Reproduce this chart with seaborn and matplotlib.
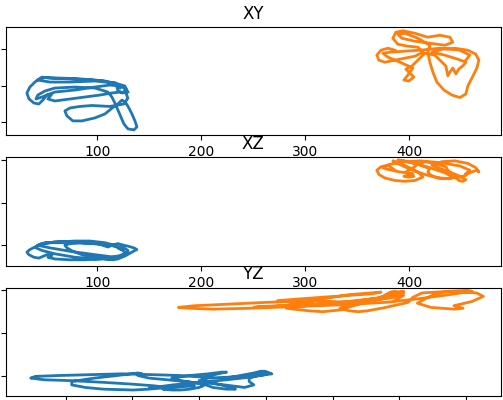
import matplotlib
matplotlib.use("Agg")
import matplotlib.pyplot as plt
from matplotlib.ticker import MultipleLocator
import seaborn as sns
import pandas as pd

# ---- trajectory 1 (blue) ----
blue_x = [121.8, 117.0, 107.4, 93.0, 78.6, 64.1, 49.7, 44.9, 40.1, 35.3, 32.4, 34.3, 39.1, 43.9, 47.8,
          51.6, 56.4, 52.6, 59.3, 73.8, 88.2, 102.6, 114.1, 121.8, 127.6, 129.5, 125.7, 112.2, 94.9,
          83.4, 73.8, 68.9, 70.9, 76.6, 85.3, 97.8, 107.4, 115.1, 119.9, 123.8, 127.6, 130.5, 133.4,
          136.3, 138.2, 135.3, 129.5, 125.7, 122.8, 119.9, 117.0, 114.1, 110.3, 97.8, 78.6, 59.3,
          49.7, 42.9, 41.1, 46.8, 59.3, 78.6, 97.8, 112.2, 121.8, 127.6, 124.7, 119.9, 118.0, 102.6,
          78.6, 54.5, 46.8, 43.0, 54.5, 73.8, 97.8, 117.0, 126.6, 129.5]
blue_y = [146.8, 152.3, 156.4, 158.4, 159.8, 160.4, 161.1, 159.8, 155.0, 148.2, 140.0, 132.1, 126.3,
          125.0, 130.4, 137.2, 138.6, 131.8, 129.1, 131.8, 134.5, 137.2, 140.0, 141.3, 140.0, 133.1,
          125.0, 121.6, 122.9, 121.6, 119.5, 115.4, 108.6, 101.8, 101.8, 105.9, 111.3, 120.2, 125.0,
          130.4, 126.3, 119.5, 111.3, 101.8, 93.6, 89.5, 90.9, 97.7, 107.2, 116.8, 126.3, 134.5,
          141.3, 146.8, 148.2, 146.8, 142.7, 137.2, 131.8, 134.5, 141.3, 144.1, 148.2, 150.9, 149.6,
          145.5, 140.0, 142.7, 153.6, 157.0, 159.1, 160.4, 161.8, 157.7, 155.0, 155.0, 156.4, 153.6,
          149.6, 141.3]
blue_z = [-4, 0, 3, 5, 5, 4, 3, 1, -2, -5, -8, -11, -14, -15, -13, -11, -12, -14, -16, -17, -17, -16,
          -14, -12, -9, -6, -3, 0, 2, 3, 2, 0, -3, -7, -11, -14, -16, -17, -16, -14, -12, -10, -8, -6,
          -5, -3, -1, 0, 1, 2, 1, 0, -2, 3, 4, 4, 2, 0, -3, -6, -10, -14, -16, -16, -14, -10, -6, -3,
          -1, 2, 3, 3, 2, 0, -3, -7, -11, -14, -12, -8]

# ---- trajectory 2 (orange) ----
orange_x = [386.3, 379.5, 372.8, 368.9, 370.9, 376.6, 386.3, 395.9, 405.5, 413.2, 408.4, 398.7, 389.1,
            384.3, 387.2, 393.9, 405.5, 417.9, 429.5, 439.1, 442.0, 434.3, 419.9, 405.5, 393.0, 389.1,
            395.9, 408.4, 419.9, 418.0, 419.9, 422.8, 426.6, 433.4, 441.1, 448.8, 454.5, 456.4, 460.3,
            465.1, 467.0, 464.1, 456.4, 443.9, 431.4, 421.8, 434.3, 446.8, 454.5, 451.6, 447.8, 444.9,
            442.0, 439.1, 437.2, 435.3, 424.7, 415.1, 408.4, 402.6, 396.8, 400.7, 404.5, 399.7, 394.9,
            398.7, 403.6, 391.1, 379.5, 374.7, 381.4, 395.9, 410.3, 429.5, 448.8, 458.4, 454.5]
orange_y = [198.6, 201.3, 198.6, 191.8, 185.0, 182.2, 185.0, 187.7, 190.4, 195.9, 202.7, 204.1, 206.8,
            214.9, 223.2, 225.2, 221.8, 216.4, 219.1, 216.4, 209.5, 205.4, 208.2, 210.9, 215.0, 220.5,
            221.8, 215.0, 205.4, 195.9, 182.2, 168.6, 155.0, 144.1, 137.2, 133.8, 138.6, 149.6, 160.4,
            174.1, 185.0, 193.2, 198.6, 201.3, 199.9, 195.9, 191.8, 186.3, 182.2, 177.1, 173.0, 166.2,
            174.1, 168.6, 163.5, 177.0, 191.8, 194.5, 185.0, 176.9, 172.7, 167.2, 161.8, 156.4, 157.7,
            164.5, 174.1, 182.2, 189.1, 194.5, 195.9, 197.3, 198.6, 201.3, 198.6, 191.8, 185.0]
orange_z = [88, 94, 92, 88, 83, 79, 76, 75, 76, 80, 86, 92, 97, 99, 97, 93, 87, 82, 79, 78, 80, 85,
            91, 96, 99, 100, 99, 95, 90, 86, 83, 81, 79, 78, 79, 80, 82, 84, 86, 88, 86, 91, 96, 99, 98,
            94, 88, 82, 77, 75, 76, 79, 83, 86, 88, 92, 96, 98, 95, 90, 86, 83, 81, 80, 81, 82, 84, 86,
            89, 91, 95, 98, 99, 97, 93, 88, 84]

titles = ["XY", "XZ", "YZ"]

df_blue = pd.DataFrame({"x": blue_x, "y": blue_y, "z": blue_z})
df_orange = pd.DataFrame({"x": orange_x, "y": orange_y, "z": orange_z})
colors = ["#1f77b4", "#ff7f0e"]

fig = plt.figure(figsize=(5.03, 4.0), dpi=100)
ax1 = fig.add_axes([0.0113, 0.6625, 0.9841, 0.2693])
ax2 = fig.add_axes([0.0113, 0.3343, 0.9841, 0.2725])
ax3 = fig.add_axes([0.0113, 0.0088, 0.9841, 0.2720])

pairs = [("x", "y"), ("x", "z"), ("y", "z")]
for ax, (a, b), title in zip([ax1, ax2, ax3], pairs, titles):
    for df, c in zip([df_blue, df_orange], colors):
        sns.lineplot(data=df, x=a, y=b, sort=False, estimator=None, color=c,
                     linewidth=2.0, ax=ax)
    ax.set_title(title, fontsize=12)
    ax.set_xlabel("")
    ax.set_ylabel("")

ax1.set_xlim(12, 488)
ax1.set_ylim(82.5, 230)
ax2.set_xlim(12, 488)
ax2.set_ylim(-24.6, 103.2)
ax3.set_xlim(82.0, 230.4)
ax3.set_ylim(-24.6, 103.2)

ax1.xaxis.set_major_locator(MultipleLocator(100))
ax2.xaxis.set_major_locator(MultipleLocator(100))
ax3.xaxis.set_major_locator(MultipleLocator(20))
ax1.yaxis.set_major_locator(MultipleLocator(50))
ax2.yaxis.set_major_locator(MultipleLocator(50))
ax3.yaxis.set_major_locator(MultipleLocator(50))

fig.savefig("out.png", dpi=100)
